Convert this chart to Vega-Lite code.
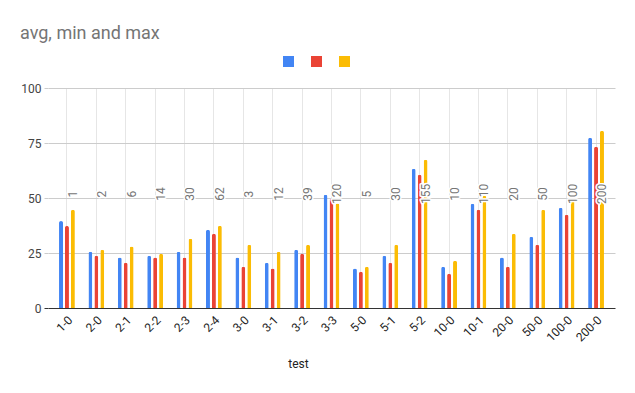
{
  "$schema": "https://vega.github.io/schema/vega-lite/v6.json",
  "autosize": {"type": "none"},
  "width": 567,
  "height": 220,
  "padding": {"left": 48, "top": 88, "right": 20, "bottom": 85},
  "background": "white",
  "title": {"text": "avg, min and max", "anchor": "start", "frame": "group", "dx": -28, "dy": -9, "fontSize": 18, "font": "Roboto", "fontWeight": "normal", "color": "#757575"},
  "data": {"values": [
    {"test": "1-0", "series": "avg", "value": 39.5}, {"test": "1-0", "series": "min", "value": 37.3}, {"test": "1-0", "series": "max", "value": 44.7, "n": "1"},
    {"test": "2-0", "series": "avg", "value": 25.6}, {"test": "2-0", "series": "min", "value": 23.8}, {"test": "2-0", "series": "max", "value": 26.5, "n": "2"},
    {"test": "2-1", "series": "avg", "value": 22.9}, {"test": "2-1", "series": "min", "value": 20.6}, {"test": "2-1", "series": "max", "value": 27.9, "n": "6"},
    {"test": "2-2", "series": "avg", "value": 23.8}, {"test": "2-2", "series": "min", "value": 22.9}, {"test": "2-2", "series": "max", "value": 24.7, "n": "14"},
    {"test": "2-3", "series": "avg", "value": 25.6}, {"test": "2-3", "series": "min", "value": 22.9}, {"test": "2-3", "series": "max", "value": 31.5, "n": "30"},
    {"test": "2-4", "series": "avg", "value": 35.6}, {"test": "2-4", "series": "min", "value": 33.8}, {"test": "2-4", "series": "max", "value": 37.4, "n": "62"},
    {"test": "3-0", "series": "avg", "value": 22.9}, {"test": "3-0", "series": "min", "value": 18.8}, {"test": "3-0", "series": "max", "value": 28.8, "n": "3"},
    {"test": "3-1", "series": "avg", "value": 20.6}, {"test": "3-1", "series": "min", "value": 17.9}, {"test": "3-1", "series": "max", "value": 25.6, "n": "12"},
    {"test": "3-2", "series": "avg", "value": 26.5}, {"test": "3-2", "series": "min", "value": 24.7}, {"test": "3-2", "series": "max", "value": 28.8, "n": "39"},
    {"test": "3-3", "series": "avg", "value": 51.5}, {"test": "3-3", "series": "min", "value": 49.7}, {"test": "3-3", "series": "max", "value": 47.5, "n": "120"},
    {"test": "5-0", "series": "avg", "value": 17.9}, {"test": "5-0", "series": "min", "value": 16.5}, {"test": "5-0", "series": "max", "value": 18.8, "n": "5"},
    {"test": "5-1", "series": "avg", "value": 23.8}, {"test": "5-1", "series": "min", "value": 20.6}, {"test": "5-1", "series": "max", "value": 28.8, "n": "30"},
    {"test": "5-2", "series": "avg", "value": 63.3}, {"test": "5-2", "series": "min", "value": 60.6}, {"test": "5-2", "series": "max", "value": 67.4, "n": "155"},
    {"test": "10-0", "series": "avg", "value": 18.8}, {"test": "10-0", "series": "min", "value": 15.6}, {"test": "10-0", "series": "max", "value": 21.5, "n": "10"},
    {"test": "10-1", "series": "avg", "value": 47.4}, {"test": "10-1", "series": "min", "value": 44.7}, {"test": "10-1", "series": "max", "value": 51.0, "n": "110"},
    {"test": "20-0", "series": "avg", "value": 22.9}, {"test": "20-0", "series": "min", "value": 18.8}, {"test": "20-0", "series": "max", "value": 33.8, "n": "20"},
    {"test": "50-0", "series": "avg", "value": 32.4}, {"test": "50-0", "series": "min", "value": 28.8}, {"test": "50-0", "series": "max", "value": 44.7, "n": "50"},
    {"test": "100-0", "series": "avg", "value": 45.6}, {"test": "100-0", "series": "min", "value": 42.4}, {"test": "100-0", "series": "max", "value": 49.5, "n": "100"},
    {"test": "200-0", "series": "avg", "value": 77.4}, {"test": "200-0", "series": "min", "value": 73.3}, {"test": "200-0", "series": "max", "value": 80.6, "n": "200"}
  ]},
  "encoding": {
    "x": {"field": "test", "type": "nominal", "sort": null,
      "scale": {"paddingInner": 0.46, "paddingOuter": 0.375},
      "axis": {"title": "test", "labelAngle": 315, "labelFontSize": 12, "labelFont": "Roboto", "labelColor": "#222222", "ticks": false, "domain": false, "labelPadding": 6,
        "grid": true, "gridColor": "#e6e6e6", "bandPosition": 0.5,
        "titleFont": "Roboto", "titleFontSize": 12, "titleFontWeight": "normal", "titleColor": "#222222", "titleX": 250, "titleY": 50}},
    "xOffset": {"field": "series", "type": "nominal", "scale": {"domain": ["avg", "min", "max"], "paddingInner": 0.33, "paddingOuter": 0}}
  },
  "layer": [
    {
      "mark": {"type": "bar", "cornerRadiusTopLeft": 2, "cornerRadiusTopRight": 2},
      "encoding": {
        "y": {"field": "value", "type": "quantitative",
          "scale": {"domain": [0, 100], "nice": false},
          "axis": {"title": null, "values": [0, 25, 50, 75, 100], "labelFont": "Roboto", "labelFontSize": 12, "labelColor": "#444444", "domain": false,
            "tickSize": 4, "tickColor": {"condition": {"test": "datum.value === 0", "value": "#333333"}, "value": "#cccccc"},
            "labelPadding": 3,
            "gridColor": {"condition": {"test": "datum.value === 0", "value": "#333333"}, "value": "#cccccc"}}},
        "color": {"field": "series", "type": "nominal",
          "scale": {"domain": ["avg", "min", "max"], "range": ["#4285F4", "#EA4335", "#FBBC04"]},
          "legend": {"orient": "none", "legendX": 235, "legendY": -32, "direction": "horizontal", "title": null,
            "labelExpr": "''", "labelOffset": 0, "columnPadding": 17, "symbolType": "square", "symbolSize": 121,
            "symbolStrokeWidth": 0, "symbolOpacity": 1}}
      }
    },
    {
      "transform": [{"filter": "datum.series === 'max'"}],
      "mark": {"type": "text", "angle": 270, "align": "center", "baseline": "middle", "dx": 4, "font": "Roboto", "fontSize": 12, "stroke": "white", "strokeWidth": 3, "strokeJoin": "round"},
      "encoding": {"y": {"datum": 50, "type": "quantitative"}, "text": {"field": "n"}}
    },
    {
      "transform": [{"filter": "datum.series === 'max'"}],
      "mark": {"type": "text", "angle": 270, "align": "center", "baseline": "middle", "dx": 4, "font": "Roboto", "fontSize": 12, "fill": "#757575"},
      "encoding": {"y": {"datum": 50, "type": "quantitative"}, "text": {"field": "n"}}
    }
  ],
  "config": {"view": {"stroke": null}}
}
